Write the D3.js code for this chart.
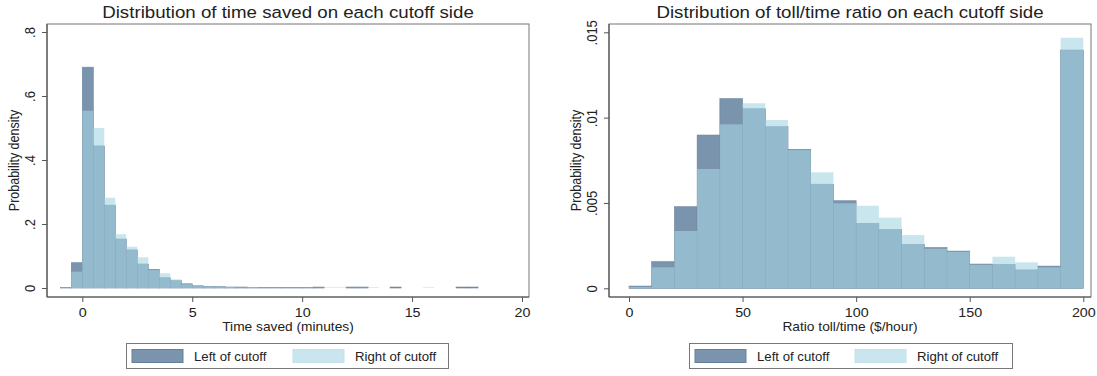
<!DOCTYPE html>
<html>
<head>
<meta charset="utf-8">
<script src="https://cdn.jsdelivr.net/npm/d3@7"></script>
<style>
  body { margin: 0; background: #fff; }
  text { font-family: "Liberation Sans", Arial, sans-serif; fill: #222; }
</style>
</head>
<body>
<div id="chart"></div>
<script>
// Left panel: time saved, bins of 0.5 minute
const timeBinStart = [-1, -0.5, 0, 0.5, 1, 1.5, 2, 2.5, 3, 3.5, 4, 4.5, 5, 5.5, 6, 6.5, 7, 7.5, 8, 8.5,
  9, 9.5, 10, 10.5, 11, 11.5, 12, 12.5, 13, 13.5, 14, 14.5, 15, 15.5, 16, 16.5, 17, 17.5];
const timeLeft = [0.002, 0.079, 0.690, 0.444, 0.259, 0.153, 0.119, 0.075, 0.058, 0.032, 0.023, 0.013, 0.007, 0.005,
  0.004, 0.003, 0.003, 0.002, 0.002, 0.002, 0.002, 0.002, 0.002, 0.003, 0, 0, 0.003, 0.003, 0, 0,
  0.003, 0, 0, 0, 0, 0, 0.003, 0.003];
const timeRight = [0.002, 0.051, 0.554, 0.500, 0.282, 0.168, 0.129, 0.096, 0.056, 0.046, 0.027, 0.012, 0.008, 0.005,
  0.004, 0.003, 0.002, 0.003, 0.002, 0.002, 0.002, 0.002, 0.002, 0.001, 0.002, 0.002, 0.001, 0.001, 0.002, 0,
  0, 0, 0, 0.002, 0, 0, 0, 0];
const timeXTicks = [0, 5, 10, 15, 20];
const timeYTicks = [0, 0.2, 0.4, 0.6, 0.8];

// Right panel: toll/time ratio, bins of 10 $/hour
const ratioBinStart = [0, 10, 20, 30, 40, 50, 60, 70, 80, 90, 100, 110, 120, 130, 140, 150, 160, 170, 180, 190];
const ratioLeft = [0.00013, 0.00156, 0.00478, 0.00898, 0.01111, 0.01052, 0.00947, 0.00814, 0.00610, 0.00513,
  0.00381, 0.00345, 0.00258, 0.00238, 0.00218, 0.00142, 0.00140, 0.00108, 0.00130, 0.01396];
const ratioRight = [0.00008, 0.00123, 0.00336, 0.00699, 0.00961, 0.01084, 0.00986, 0.00810, 0.00680, 0.00498,
  0.00484, 0.00414, 0.00312, 0.00232, 0.00214, 0.00138, 0.00185, 0.00152, 0.00123, 0.01468];
const ratioXTicks = [0, 50, 100, 150, 200];
const ratioYTicks = [0, 0.005, 0.01, 0.015];

const seriesNames = ['Left of cutoff', 'Right of cutoff'];

const W = 1097, H = 376;
const SX = 1.1; // text in the picture is slightly wide
const leftColor = 'rgb(122,148,173)', leftStroke = 'rgb(104,129,154)';
const rightColor = 'rgb(165,212,226)', rightOpacity = 0.6;
const axisColor = '#555';

const svg = d3.select('#chart').append('svg')
  .attr('width', W).attr('height', H);

function label(g, txt, x, y, size, anchor, rotate) {
  let t = g.append('text')
    .attr('transform', `translate(${x},${y}) scale(${SX},1)` + (rotate ? ' rotate(-90)' : ''))
    .attr('text-anchor', anchor || 'middle')
    .style('font-size', size + 'px')
    .text(txt);
  if (rotate) t.attr('dy', '0.36em');
}

function yFmt(d) {
  return d === 0 ? '0' : String(d).replace(/^0/, '');
}

function drawPanel(cfg) {
  const g = svg.append('g');
  const f = cfg.frame;

  let x = d3.scaleLinear().domain(cfg.xDomain).range(cfg.xRange);
  let y = d3.scaleLinear().domain(cfg.yDomain).range(cfg.yRange);

  // frame
  g.append('rect')
    .attr('x', f.left).attr('y', f.top)
    .attr('width', f.right - f.left).attr('height', f.bottom - f.top)
    .attr('fill', 'none').attr('stroke', '#777').attr('stroke-width', 1);

  // bars: left series first, right series over it with transparency
  const bins = cfg.bins.map((b, i) => ({ x0: b, x1: b + cfg.binWidth, l: cfg.left[i], r: cfg.right[i] }));

  g.append('g').selectAll('rect')
    .data(bins.filter(d => d.l > 0))
    .enter().append('rect')
    .attr('x', d => x(d.x0))
    .attr('y', d => y(d.l))
    .attr('width', d => x(d.x1) - x(d.x0))
    .attr('height', d => y(0) - y(d.l))
    .attr('fill', leftColor)
    .attr('stroke', leftStroke)
    .attr('stroke-width', 0.6);

  g.append('g').selectAll('rect')
    .data(bins.filter(d => d.r > 0))
    .enter().append('rect')
    .attr('x', d => x(d.x0))
    .attr('y', d => y(d.r))
    .attr('width', d => x(d.x1) - x(d.x0))
    .attr('height', d => y(0) - y(d.r))
    .attr('fill', rightColor)
    .attr('fill-opacity', rightOpacity);

  // y axis
  const yAxis = g.append('g')
    .attr('transform', `translate(${f.left},0)`)
    .call(d3.axisLeft(y).tickValues(cfg.yTicks).tickSize(5).tickFormat(yFmt));
  yAxis.select('.domain').remove();
  yAxis.selectAll('.tick line').attr('stroke', axisColor);
  yAxis.selectAll('.tick text')
    .attr('x', null).attr('dy', null)
    .attr('transform', `translate(-17,0) scale(${SX},1) rotate(-90)`)
    .attr('dy', '0.36em')
    .attr('text-anchor', 'middle')
    .style('font-size', '13px')
    .style('font-family', '"Liberation Sans", Arial, sans-serif')
    .attr('fill', '#222');

  // x axis
  const xAxis = g.append('g')
    .attr('transform', `translate(0,${f.bottom})`)
    .call(d3.axisBottom(x).tickValues(cfg.xTicks).tickSize(5).tickFormat(d3.format('d')));
  xAxis.select('.domain').remove();
  xAxis.selectAll('.tick line').attr('stroke', axisColor);
  xAxis.selectAll('.tick text')
    .attr('y', null).attr('dy', null)
    .attr('transform', `translate(0,20) scale(${SX},1)`)
    .style('font-size', '13px')
    .style('font-family', '"Liberation Sans", Arial, sans-serif')
    .attr('fill', '#222');

  // axis lines
  g.append('line').attr('x1', f.left).attr('x2', f.left).attr('y1', f.top).attr('y2', f.bottom)
    .attr('stroke', axisColor).attr('stroke-width', 1.2);
  g.append('line').attr('x1', f.left).attr('x2', f.right).attr('y1', f.bottom).attr('y2', f.bottom)
    .attr('stroke', axisColor).attr('stroke-width', 1.2);

  const cx = (f.left + f.right) / 2;
  label(g, cfg.title, cx, 17.5, 17);
  label(g, cfg.xTitle, cx, 331, 12.5);
  label(g, 'Probability density', f.left - 32.5, (f.top + f.bottom) / 2, 12.5, 'middle', true);

  // legend
  const lg = g.append('g');
  const lb = cfg.legend;
  lg.append('rect')
    .attr('x', lb.x0).attr('y', 343.5).attr('width', lb.x1 - lb.x0).attr('height', 25)
    .attr('fill', '#fff').attr('stroke', '#777').attr('stroke-width', 1);
  const sw = [
    { x: lb.sw1, fill: leftColor, stroke: leftStroke, name: seriesNames[0] },
    { x: lb.sw2, fill: 'rgb(201,229,237)', stroke: 'rgb(196,225,234)', name: seriesNames[1] }
  ];
  sw.forEach(s => {
    lg.append('rect').attr('x', s.x).attr('y', 349.5).attr('width', 51).attr('height', 13)
      .attr('fill', s.fill).attr('stroke', s.stroke).attr('stroke-width', 1);
    label(lg, s.name, s.x + 62, 360.5, 12, 'start');
  });
}

drawPanel({
  frame: { left: 47, right: 529, top: 24, bottom: 297 },
  xDomain: [0, 20], xRange: [82.3, 522],
  yDomain: [0, 0.8], yRange: [288, 32],
  bins: timeBinStart, binWidth: 0.5, left: timeLeft, right: timeRight,
  xTicks: timeXTicks, yTicks: timeYTicks,
  title: 'Distribution of time saved on each cutoff side',
  xTitle: 'Time saved (minutes)',
  legend: { x0: 126.5, x1: 448.5, sw1: 132, sw2: 293 }
});

drawPanel({
  frame: { left: 609, right: 1091, top: 24, bottom: 297 },
  xDomain: [0, 200], xRange: [629, 1083.3],
  yDomain: [0, 0.015], yRange: [288.3, 32.3],
  bins: ratioBinStart, binWidth: 10, left: ratioLeft, right: ratioRight,
  xTicks: ratioXTicks, yTicks: ratioYTicks,
  title: 'Distribution of toll/time ratio on each cutoff side',
  xTitle: 'Ratio toll/time ($/hour)',
  legend: { x0: 689.5, x1: 1012.5, sw1: 695, sw2: 855 }
});
</script>
</body>
</html>
